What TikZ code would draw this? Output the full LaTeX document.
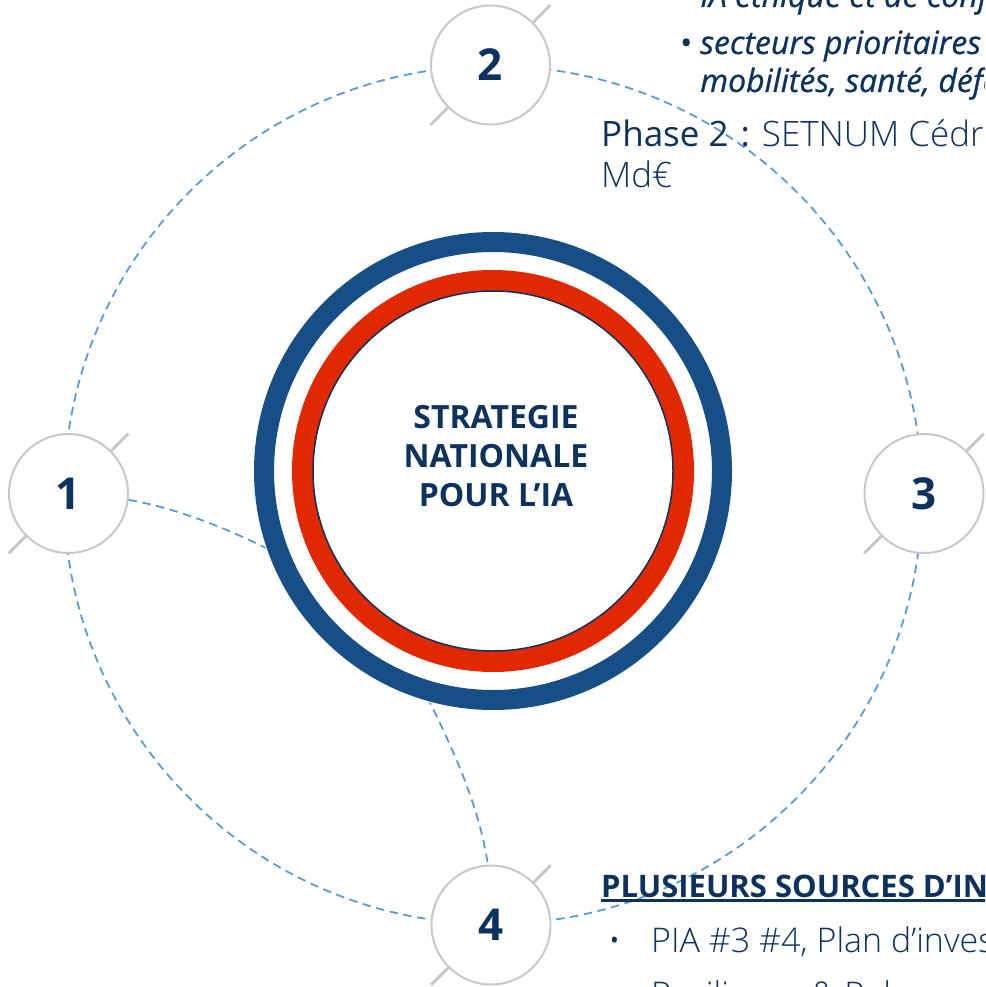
\documentclass[tikz,border=0pt]{standalone}
\usepackage{fontspec}
\setmainfont{Open Sans}
\IfFontExistsTF{Open Sans Light}{\newfontfamily\lightf{Open Sans Light}}{\newfontfamily\lightf{Open Sans}}
\newfontfamily\semif{Open Sans}[RawFeature={embolden=0.8}]
\definecolor{navy}{RGB}{13,50,93}
\definecolor{ringblue}{RGB}{23,78,134}
\definecolor{ringred}{RGB}{225,40,0}
\definecolor{dashblue}{RGB}{91,155,213}
\definecolor{gray1}{RGB}{200,200,200}
\begin{document}
\begin{tikzpicture}[x=1pt,y=-1pt,
  numnode/.style={circle,draw=gray1,line width=2pt,fill=white,minimum size=119pt,inner sep=0pt,
    font=\bfseries\fontsize{44}{44}\selectfont,text=navy},
  dashline/.style={draw=dashblue,line width=1.8pt,dash pattern=on 8.5pt off 5.5pt},
  ticks/.style={draw=gray1,line width=3pt},
  txt/.style={anchor=base west,inner sep=0pt,text=navy}
]
\useasboundingbox (0,0) rectangle (985,987);
\clip (0,0) rectangle (985,987);
% big dashed circle
\coordinate (c0) at (493,495);
\draw[dashline] (c0) circle[radius=429];
% numbered nodes
\node[numnode] (n1) at (68.5,493.5) {1};
\node[numnode] (n2) at (490.5,65) {2};
\node[numnode] (n3) at (924,493.5) {3};
\node[numnode] (n4) at (491,925) {4};
\foreach \n in {n1,n2,n3,n4}{
  \draw[ticks] (\n.45) -- ++(17,-17);
  \draw[ticks] (\n.225) -- ++(-17,17);
}
% curved connectors to the core
\coordinate (core) at (493,471);
\coordinate (r1) at (276,553);
\coordinate (r4) at (427,697);
\draw[dashline] (n1.-6) .. controls (175,508) and (225,527) .. (r1);
\draw[dashline] (r4) .. controls (455,752) and (480,810) .. (n4.93);
% rings
\fill[white] (core) circle[radius=240];
\draw[ringblue,line width=20pt] (core) circle[radius=229];
\draw[ringred,line width=21pt] (core) circle[radius=190.5];
\node[circle,draw=navy,line width=1.5pt,fill=white,minimum size=360pt,inner sep=0pt] (inner) at (core) {};
\node[align=center,inner sep=0pt,text=navy,font=\bfseries\fontsize{32}{39}\selectfont] (title) at (496,456)
  {STRATEGIE\\NATIONALE\\POUR L’IA};
% top right text
\node[txt,font=\semif\itshape\fontsize{32}{32}\selectfont] (t0) at (700,7) {IA éthique et de confiance};
\node[txt,font=\semif\fontsize{32}{32}\selectfont] (b1) at (680,54) {•};
\node[txt,font=\semif\itshape\fontsize{32}{32}\selectfont] (t1) at (700,54) {secteurs prioritaires};
\node[txt,font=\semif\itshape\fontsize{32}{32}\selectfont] (t2) at (700,92) {mobilités, santé, défense};
\node[txt,font=\fontsize{35}{35}\selectfont] (p1) at (601,147) {Phase 2\hspace{12pt}:\hspace{12pt}{\lightf SETNUM Cédric O}};
\node[txt,font=\lightf\fontsize{35}{35}\selectfont] (p2) at (601,187) {Md€};
% bottom right text
\node[txt,font=\bfseries\fontsize{31}{31}\selectfont] (h) at (601,897) {PLUSIEURS SOURCES D’INVESTISSEMENT};
\draw[navy,line width=3pt] (h.base west) ++(0,3.5) -- ++(420,0);
\node[txt,font=\lightf\fontsize{34}{34}\selectfont] (b2) at (608,952) {•};
\node[txt,font=\lightf\fontsize{34}{34}\selectfont] (l1) at (651,952) {PIA \#3 \#4, Plan d’investissement};
\node[txt,font=\lightf\fontsize{34}{34}\selectfont] (l2) at (651,1006) {Resilience \& Relance};
\end{tikzpicture}
\end{document}
